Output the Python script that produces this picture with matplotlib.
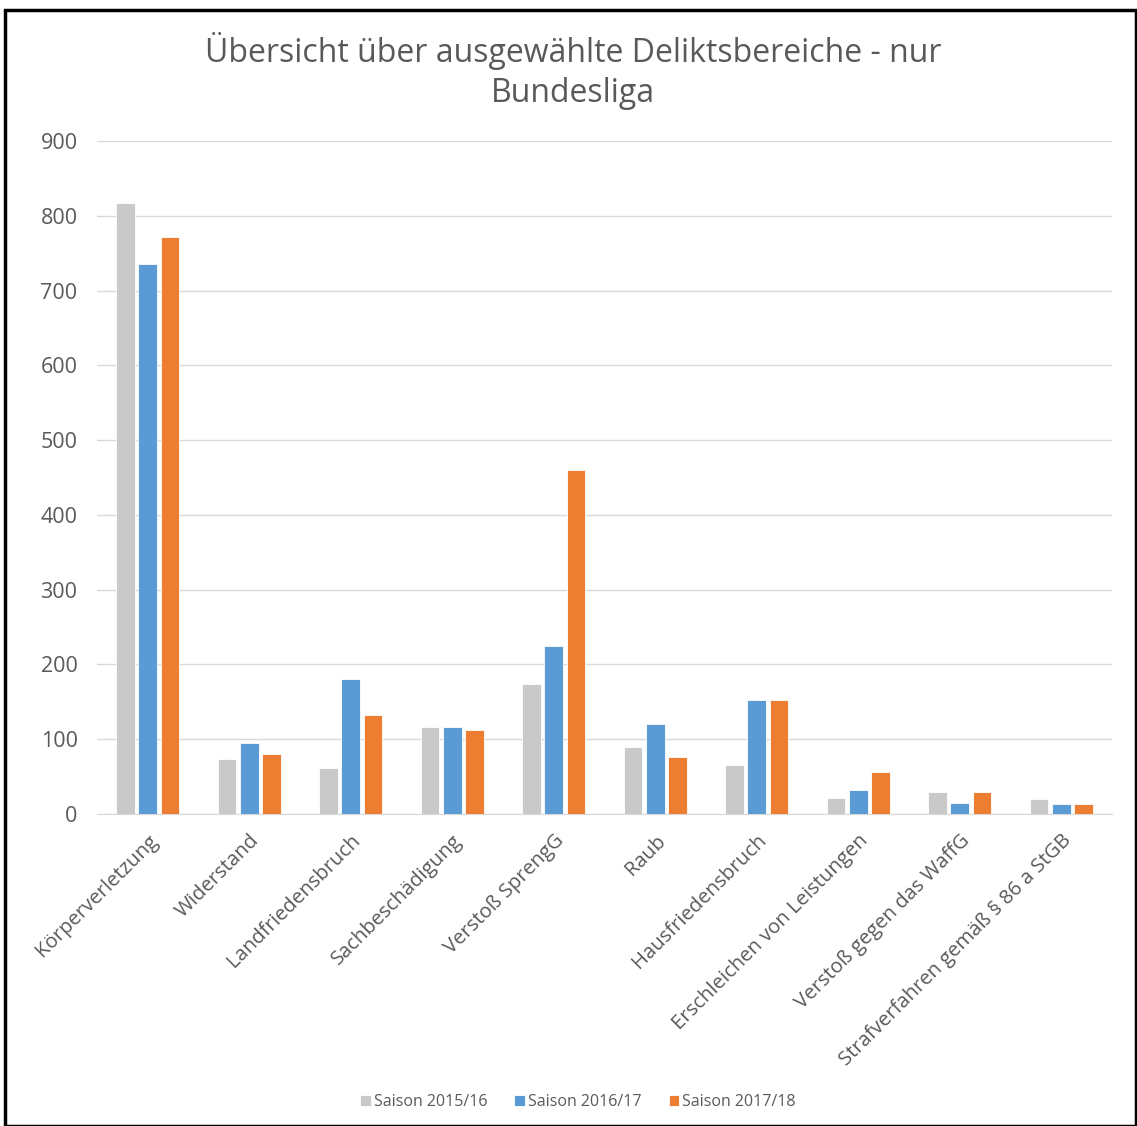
import matplotlib.pyplot as plt
import numpy as np
from matplotlib.patches import Rectangle

plt.rcParams['font.family'] = ['Open Sans', 'DejaVu Sans']

categories = ['Körperverletzung', 'Widerstand', 'Landfriedensbruch', 'Sachbeschädigung',
              'Verstoß SprengG', 'Raub', 'Hausfriedensbruch', 'Erschleichen von Leistungen',
              'Verstoß gegen das WaffG', 'Strafverfahren gemäß § 86 a StGB']
s1516 = [817, 74, 62, 117, 174, 90, 66, 21, 29, 20]
s1617 = [735, 95, 180, 117, 224, 120, 152, 32, 15, 13]
s1718 = [771, 80, 133, 112, 460, 76, 152, 56, 30, 13]
series = ['Saison 2015/16', 'Saison 2016/17', 'Saison 2017/18']
colors = ['#C9C9C9', '#5B9BD5', '#ED7D31']

W, H = 1137, 1126
fig = plt.figure(figsize=(W / 100, H / 100), dpi=100)
ax = fig.add_axes([97 / W, 1 - 814 / H, (1112 - 97) / W, (814 - 141) / H])

x = np.arange(len(categories))
for vals, off, c, lab in zip([s1516, s1617, s1718], [-0.22, 0, 0.22], colors, series):
    ax.bar(x + off, vals, width=0.185, color=c, edgecolor='white', linewidth=0.6, label=lab, zorder=3)

ax.set_xlim(-0.5, len(categories) - 0.5)
ax.set_ylim(0, 900)
ax.set_yticks(range(0, 901, 100))
ax.yaxis.grid(True, color='#D9D9D9', linewidth=1, zorder=0)
for s in ['top', 'right', 'left']:
    ax.spines[s].set_visible(False)
ax.spines['bottom'].set_color('#D9D9D9')
ax.tick_params(length=0, colors='#595959')
ax.tick_params(axis='y', pad=14, labelsize=15.5)
ax.set_xticks(x)
ax.set_xticklabels(categories, rotation=45, ha='right', rotation_mode='anchor', fontsize=14.6)
ax.tick_params(axis='x', pad=12)

fig.text(573 / W, 1 - 71 / H, 'Übersicht über ausgewählte Deliktsbereiche - nur\nBundesliga',
         ha='center', va='center', fontsize=23, color='#595959', linespacing=1.25)

fig.legend(loc='center', bbox_to_anchor=(578 / W, 1 - 1102 / H), ncol=3, frameon=False,
           fontsize=11.5, handlelength=0.65, handleheight=0.65, handletextpad=0.2,
           columnspacing=1.7, labelcolor='#595959')

fig.patches.append(Rectangle((5 / W, 0), (1136 - 5) / W, 1 - 10 / H, transform=fig.transFigure,
                             fill=False, edgecolor='black', linewidth=2.5))

fig.savefig('out.png', dpi=100)
